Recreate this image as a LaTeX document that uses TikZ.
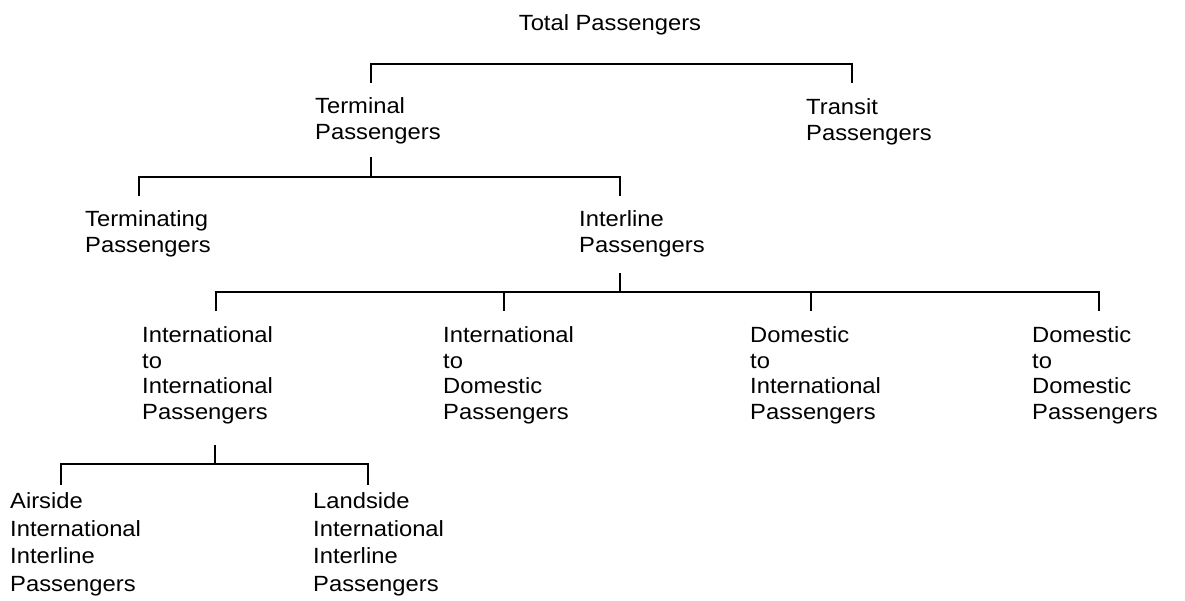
\documentclass[tikz,border=0pt]{standalone}
\usepackage{fontspec}
\setmainfont{Liberation Sans}[FakeStretch=1.08]
\begin{document}
\begin{tikzpicture}[x=1pt,y=-1pt,
  lbl/.style={anchor=base west, inner sep=0pt, align=left, font=\fontsize{22}{26}\selectfont},
  colbl/.style={lbl, font=\fontsize{22}{25.5}\selectfont},
  botlbl/.style={lbl, font=\fontsize{22}{27.5}\selectfont},
  conn/.style={line width=1.8pt, line join=miter},
  thinconn/.style={line width=1.1pt}]
\useasboundingbox (0,0) rectangle (1185,600);
% texts (base anchor = baseline of the last line)
\node[lbl, anchor=base] (total) at (610,30) {Total Passengers};
\node[lbl] (terminal) at (315,139) {Terminal\\Passengers};
\node[lbl] (transit) at (806,140) {Transit\\Passengers};
\node[lbl] (terminating) at (85,252) {Terminating\\Passengers};
\node[lbl] (interline) at (579,252) {Interline\\Passengers};
\node[colbl] (ii) at (142,419) {International\\to\\International\\Passengers};
\node[colbl] (id) at (443,419) {International\\to\\Domestic\\Passengers};
\node[colbl] (di) at (750,419) {Domestic\\to\\International\\Passengers};
\node[colbl] (dd) at (1032,419) {Domestic\\to\\Domestic\\Passengers};
\node[botlbl] (air) at (10,591) {Airside\\International\\Interline\\Passengers};
\node[botlbl] (land) at (313,591) {Landside\\International\\Interline\\Passengers};
% connector points
\coordinate (aM) at (610,64);
\coordinate (aL) at (371,83);
\coordinate (aR) at (852,83);
\coordinate (bS) at (371,157);
\coordinate (bM) at (371,177);
\coordinate (bL) at (139,196);
\coordinate (bR) at (620,196);
\coordinate (cS) at (620,273);
\coordinate (cM) at (620,292);
\coordinate (c1) at (216,311);
\coordinate (c2) at (504,311);
\coordinate (c3) at (811,311);
\coordinate (c4) at (1099,311);
\coordinate (dS) at (215,445);
\coordinate (dM) at (215,464);
\coordinate (dL) at (61,485);
\coordinate (dR) at (368,485);
% connectors
\draw[conn] (aL) |- (aM) -| (aR);
\draw[thinconn] (bS) -- (bM);
\draw[conn] (bL) |- (bM) -| (bR);
\draw[conn] (cS) -- (cM);
\draw[conn] (c1) |- (cM) -| (c4);
\draw[conn] (c2 |- cM) -- (c2);
\draw[conn] (c3 |- cM) -- (c3);
\draw[conn] (dS) -- (dM);
\draw[conn] (dL) |- (dM) -| (dR);
\end{tikzpicture}
\end{document}
